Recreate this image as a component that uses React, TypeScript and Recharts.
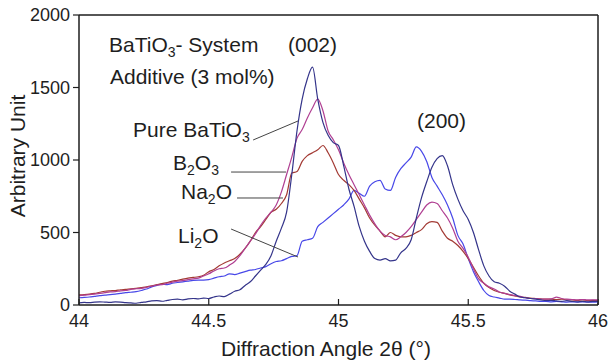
import React from 'react';
import { LineChart, Line, XAxis, YAxis, ReferenceLine } from 'recharts';

// diffraction angle 2θ (deg), common sampling grid for all curves
const angles = [
  44.0, 44.02, 44.04, 44.06, 44.08, 44.1, 44.12, 44.14, 44.16, 44.18,
  44.2, 44.22, 44.24, 44.26, 44.28, 44.3, 44.32, 44.34, 44.36, 44.38,
  44.4, 44.42, 44.44, 44.46, 44.48, 44.5, 44.52, 44.54, 44.56, 44.58,
  44.6, 44.62, 44.64, 44.66, 44.68, 44.7, 44.72, 44.74, 44.76, 44.78,
  44.8, 44.82, 44.84, 44.86, 44.88, 44.9, 44.92, 44.94, 44.96, 44.98,
  45.0, 45.02, 45.04, 45.06, 45.08, 45.1, 45.12, 45.14, 45.16, 45.18,
  45.2, 45.22, 45.24, 45.26, 45.28, 45.3, 45.32, 45.34, 45.36, 45.38,
  45.4, 45.42, 45.44, 45.46, 45.48, 45.5, 45.52, 45.54, 45.56, 45.58,
  45.6, 45.62, 45.64, 45.66, 45.68, 45.7, 45.72, 45.74, 45.76, 45.78,
  45.8, 45.82, 45.84, 45.86, 45.88, 45.9, 45.92, 45.94, 45.96, 45.98,
  46.0,
];

const pureBaTiO3 = [
  15, 18, 16, 20, 22, 20, 18, 22, 20, 16,
  14, 12, 18, 22, 28, 30, 26, 32, 38, 40,
  36, 42, 45, 42, 48, 45, 55, 62, 58, 75,
  95, 105, 135, 160, 200, 240, 280, 340, 440, 530,
  640, 900, 1200, 1420, 1560, 1640, 1420, 1260, 1170, 1120,
  1100, 960, 800, 680, 540, 440, 370, 320, 310, 320,
  305, 310, 360, 390, 450, 600, 740, 850, 950, 1010,
  1030, 960, 830, 730, 650, 590, 500, 380, 270, 200,
  160, 150, 130, 95, 75, 55, 50, 45, 40, 35,
  30, 32, 28, 25, 30, 25, 22, 25, 22, 25,
  25,
];

const b2o3 = [
  65, 68, 72, 75, 80, 85, 90, 92, 98, 100,
  108, 112, 115, 122, 130, 138, 140, 150, 158, 165,
  168, 175, 180, 185, 200, 215, 235, 250, 255, 275,
  300, 340, 390, 440, 490, 550, 600, 640, 690, 780,
  900, 1020, 1150, 1210, 1290, 1360, 1420, 1340, 1200, 1140,
  1070, 980, 900, 830, 760, 690, 620, 560, 510, 480,
  470, 450, 470, 500, 540, 590, 640, 690, 710, 700,
  650, 600, 530, 440, 390, 330, 250, 180, 150, 125,
  110, 90, 80, 72, 65, 60, 50, 45, 45, 40,
  40, 42, 55, 45, 40, 38, 35, 38, 35, 35,
  35,
];

const na2o = [
  70, 72, 75, 80, 88, 95, 98, 100, 105, 108,
  112, 115, 120, 125, 132, 140, 148, 155, 165, 170,
  178, 185, 190, 195, 205, 230, 245, 270, 290, 305,
  320, 350, 390, 440, 500, 540, 590, 640, 660, 700,
  760, 910, 920, 990, 1030, 1050, 1070, 1100, 1050, 980,
  900, 860, 830, 790, 730, 670, 600, 550, 510, 470,
  500, 480, 470, 470, 480, 500, 520, 560, 575, 570,
  510, 460, 440, 410, 370, 320, 260, 200, 150, 120,
  100, 88, 80, 70, 62, 55, 52, 48, 45, 42,
  40, 40, 38, 40, 36, 35, 32, 35, 30, 32,
  30,
];

const li2o = [
  50, 52, 55, 60, 65, 68, 72, 75, 80, 85,
  88, 92, 100, 110, 125, 135, 145, 140, 150, 155,
  160, 165, 170, 172, 172, 175, 185, 195, 200, 215,
  210, 220, 230, 240, 245, 255, 265, 285, 300, 305,
  320, 335, 340, 440, 450, 460, 540, 570, 600, 630,
  660, 690, 730, 790, 770, 750, 820, 850, 860, 800,
  790, 880, 940, 980, 1020, 1090, 1060, 990, 880, 820,
  760, 690, 600, 480, 420, 320, 230, 160, 100, 65,
  55, 48, 40, 40, 38, 35, 33, 30, 28, 25,
  25, 22, 24, 22, 20, 22, 20, 22, 20, 20,
  22,
];

const xTicks = [44, 44.5, 45, 45.5, 46];
const yTicks = [0, 500, 1000, 1500, 2000];

const data = angles.map((angle, i) => ({
  angle,
  pure: pureBaTiO3[i],
  b2o3: b2o3[i],
  na2o: na2o[i],
  li2o: li2o[i],
}));

const FONT = '"Liberation Sans", Arial, Helvetica, sans-serif';
const INK = '#1e1e1e';

const XTick = (props: any) => {
  const { x, y, payload } = props;
  return (
    <g>
      <line x1={x} x2={x} y1={y} y2={y - 6} stroke={INK} strokeWidth={1.2} />
      <text x={x} y={y + 22} textAnchor="middle" fontSize={18} fontFamily={FONT} fill={INK}>
        {payload.value}
      </text>
    </g>
  );
};

const Sub = ({ children }: { children: React.ReactNode }) => (
  <tspan dy={5} fontSize={14}>{children}</tspan>
);

const App = () => {
  return (
    <div style={{ position: 'absolute', left: 0, top: 0, width: 611, height: 362, background: '#fff' }}>
      <LineChart width={611} height={362} data={data} margin={{ top: 15, right: 13, bottom: 27, left: 0 }}>
        <XAxis
          dataKey="angle"
          type="number"
          domain={[44, 46]}
          ticks={xTicks}
          interval={0}
          height={30}
          tickSize={0}
          tickMargin={0}
          tickLine={false}
          tick={<XTick />}
          axisLine={{ stroke: INK, strokeWidth: 1.5 }}
        />
        <YAxis
          type="number"
          domain={[0, 2000]}
          ticks={yTicks}
          interval={0}
          width={79}
          tickSize={6}
          tickMargin={3}
          tickLine={{ stroke: INK, strokeWidth: 1.2 }}
          axisLine={{ stroke: INK, strokeWidth: 1.5 }}
          tick={{ fontSize: 18, fontFamily: FONT, fill: INK }}
        />
        <ReferenceLine y={2000} stroke={INK} strokeWidth={1.5} />
        <ReferenceLine x={46} stroke={INK} strokeWidth={1.5} />

        <Line type="monotone" dataKey="li2o" stroke="#4848e8" strokeWidth={1.2} dot={false} isAnimationActive={false} />
        <Line type="monotone" dataKey="na2o" stroke="#a33a34" strokeWidth={1.2} dot={false} isAnimationActive={false} />
        <Line type="monotone" dataKey="b2o3" stroke="#b03f92" strokeWidth={1.2} dot={false} isAnimationActive={false} />
        <Line type="monotone" dataKey="pure" stroke="#34348a" strokeWidth={1.2} dot={false} isAnimationActive={false} />

        {/* leader lines from the labels to their curves */}
        <ReferenceLine segment={[{ x: 44.671, y: 1138 }, { x: 44.844, y: 1269 }]} stroke="#444" strokeWidth={1} />
        <ReferenceLine segment={[{ x: 44.586, y: 917 }, { x: 44.798, y: 917 }]} stroke="#444" strokeWidth={1} />
        <ReferenceLine segment={[{ x: 44.609, y: 738 }, { x: 44.786, y: 738 }]} stroke="#444" strokeWidth={1} />
        <ReferenceLine segment={[{ x: 44.586, y: 524 }, { x: 44.844, y: 331 }]} stroke="#444" strokeWidth={1} />
      </LineChart>

      <svg width={611} height={362} style={{ position: 'absolute', left: 0, top: 0, pointerEvents: 'none' }}>
        <g fontFamily={FONT} fill={INK} fontSize={21}>
          <text x={109} y={52}>BaTiO<Sub>3</Sub><tspan dy={-5}>- System</tspan></text>
          <text x={110} y={84}>Additive (3 mol%)</text>
          <text x={288} y={52}>(002)</text>
          <text x={417} y={128}>(200)</text>
          <text x={133} y={137}>Pure BaTiO<Sub>3</Sub></text>
          <text x={173} y={170}>B<Sub>2</Sub><tspan dy={-5}>O</tspan><Sub>3</Sub></text>
          <text x={181} y={199}>Na<Sub>2</Sub><tspan dy={-5}>O</tspan></text>
          <text x={178} y={243}>Li<Sub>2</Sub><tspan dy={-5}>O</tspan></text>
          <text x={221} y={356}>Diffraction Angle 2θ (°)</text>
          <text x={25} y={156} textAnchor="middle" transform="rotate(-90 25 156)">Arbitrary Unit</text>
        </g>
      </svg>
    </div>
  );
};

export default App;
